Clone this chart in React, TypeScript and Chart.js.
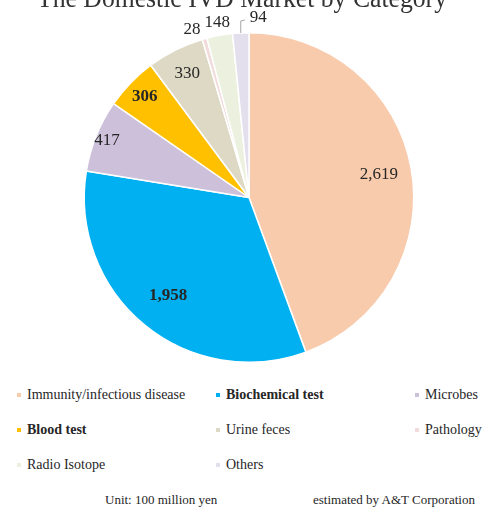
import React, { useEffect, useRef } from "react";
import { Chart, registerables } from "chart.js";
Chart.register(...registerables);

const categories = [
  "Immunity/infectious disease",
  "Biochemical test",
  "Microbes",
  "Blood test",
  "Urine feces",
  "Pathology",
  "Radio Isotope",
  "Others",
];
const values = [2619, 1958, 417, 306, 330, 28, 148, 94];
const colors = ["#F8CBAD", "#00B0F0", "#CCC0DA", "#FFC000", "#DDD9C4", "#F2DCDB", "#EBF1DE", "#E4DFEC"];
const boldItems = [false, true, false, true, false, false, false, false];
const titleText = "The Domestic IVD Market by Category";
const unitNote = "Unit: 100 million yen";
const sourceNote = "estimated by A&T Corporation";

// label placement (fraction of radius, pixel nudges)
const labelRadius = [0.8, 0.77, 0.93, 0.88, 0.84, 1.08, 1.08, 1];
const nudgeX = [0, 0, 0, 0, 0, -9, 0, 0];
const nudgeY = [0, 0, 0, 0, 0, 3, 0, 0];
const leaderIndex = 7;

const SERIF = '"Liberation Serif", "Times New Roman", serif';

const titlePlugin = {
  id: "cutTitle",
  afterDraw(chart: any) {
    const ctx = chart.ctx;
    ctx.save();
    ctx.font = `28px ${SERIF}`;
    ctx.fillStyle = "#333333";
    ctx.textAlign = "center";
    ctx.textBaseline = "alphabetic";
    ctx.fillText(titleText, 242, 7, 410);
    ctx.restore();
  },
};

const labelPlugin = {
  id: "sliceLabels",
  afterDatasetsDraw(chart: any) {
    const ctx = chart.ctx;
    const meta = chart.getDatasetMeta(0);
    ctx.save();
    meta.data.forEach((arc: any, i: number) => {
      const p = arc.getProps(["x", "y", "startAngle", "endAngle", "outerRadius"], true);
      const mid = (p.startAngle + p.endAngle) / 2;
      const text = values[i].toLocaleString("en-US");
      ctx.font = `${boldItems[i] ? "bold " : ""}17px ${SERIF}`;
      ctx.fillStyle = "#262626";
      ctx.textBaseline = "middle";
      if (i === leaderIndex) {
        const ex = p.x + Math.cos(mid) * p.outerRadius;
        const ey = p.y + Math.sin(mid) * p.outerRadius;
        ctx.strokeStyle = "#A6A6A6";
        ctx.lineWidth = 1;
        ctx.beginPath();
        ctx.moveTo(ex, ey);
        ctx.lineTo(ex, ey - 12);
        ctx.lineTo(ex + 4, ey - 13);
        ctx.stroke();
        ctx.textAlign = "left";
        ctx.fillText(text, ex + 9, ey - 15);
      } else {
        const r = p.outerRadius * labelRadius[i];
        const x = p.x + Math.cos(mid) * r + nudgeX[i];
        const y = p.y + Math.sin(mid) * r + nudgeY[i];
        ctx.textAlign = "center";
        ctx.fillText(text, x, y);
      }
    });
    ctx.restore();
  },
};

function PieChart() {
  const ref = useRef<HTMLCanvasElement>(null);
  useEffect(() => {
    if (!ref.current) return;
    const chart = new Chart(ref.current, {
      type: "pie",
      data: {
        labels: categories,
        datasets: [
          {
            data: values,
            backgroundColor: colors,
            borderColor: "#ffffff",
            borderWidth: 1.5,
            hoverOffset: 0,
          },
        ],
      },
      options: {
        responsive: false,
        animation: false,
        layout: { padding: { top: 32, bottom: 17, left: 10, right: 0 } },
        plugins: {
          legend: { display: false },
          tooltip: { enabled: false },
          title: { display: false },
        },
      },
      plugins: [labelPlugin, titlePlugin],
    } as any);
    return () => chart.destroy();
  }, []);
  return <canvas ref={ref} width={488} height={380} style={{ position: "absolute", left: 0, top: 0 }} />;
}

const colLeft = [17, 216, 415];
const rowCenter = [395, 430, 465];

export default function App() {
  return (
    <div
      style={{
        position: "absolute",
        left: 0,
        top: 0,
        width: 488,
        height: 508,
        background: "#ffffff",
        overflow: "hidden",
        fontFamily: SERIF,
        color: "#404040",
      }}
    >
      <PieChart />
      {categories.map((c, i) => (
        <div
          key={c}
          style={{
            position: "absolute",
            left: colLeft[i % 3],
            top: rowCenter[Math.floor(i / 3)] - 9,
            height: 18,
            display: "flex",
            alignItems: "center",
            fontSize: 14,
            fontWeight: boldItems[i] ? "bold" : "normal",
            whiteSpace: "nowrap",
            color: "#262626",
          }}
        >
          <span style={{ display: "inline-block", width: 4, height: 4, background: colors[i], marginRight: 6 }} />
          {c}
        </div>
      ))}
      <div style={{ position: "absolute", left: 105, top: 492, fontSize: 13, whiteSpace: "nowrap", color: "#262626" }}>
        {unitNote}
      </div>
      <div style={{ position: "absolute", left: 313, top: 492, fontSize: 13, whiteSpace: "nowrap", color: "#262626" }}>
        {sourceNote}
      </div>
    </div>
  );
}
